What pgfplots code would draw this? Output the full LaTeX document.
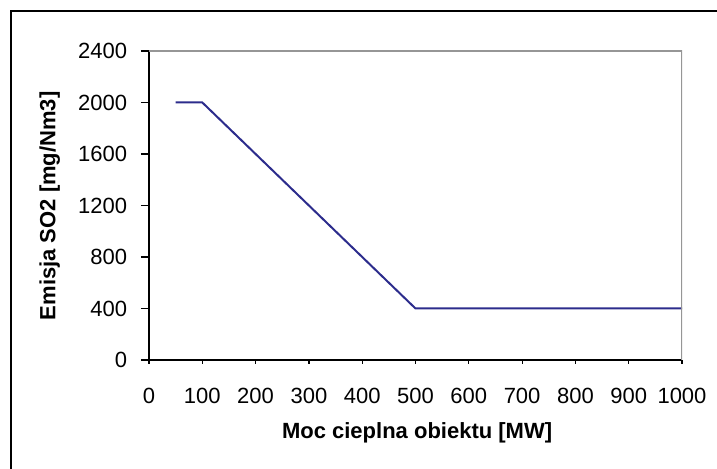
\documentclass[border=0pt]{standalone}
\usepackage{pgfplots}
\pgfplotsset{compat=1.18}
\usepackage{fontspec}
\setmainfont{Liberation Sans}
\definecolor{linec}{RGB}{44,44,140}
\definecolor{axgray}{RGB}{150,150,150}
\begin{document}
\begin{tikzpicture}
\useasboundingbox (0pt,0pt) rectangle (358.5pt,234.5pt);
\draw[black, line width=0.7pt] (5.5pt,0pt) -- (5.5pt,229pt) -- (358.5pt,229pt);
\begin{axis}[
  at={(74.5pt,54.5pt)}, anchor=south west,
  scale only axis, width=266.5pt, height=154.5pt,
  xmin=0, xmax=1000, ymin=0, ymax=2400,
  xtick={0,100,...,1000}, ytick={0,400,...,2400},
  axis x line*=bottom, axis y line*=left,
  axis line style={-, black, line width=0.8pt},
  tick align=outside,
  tick style={black, line width=0.6pt},
  xtick style={/pgfplots/major tick length=1.8pt},
  ytick style={/pgfplots/major tick length=4pt},
  font=\fontsize{11}{13}\selectfont,
  /pgf/number format/assume math mode=true,
  /pgf/number format/set thousands separator={},
  scaled ticks=false,
  xticklabel style={anchor=north, inner sep=0pt, yshift=-9.7pt},
  yticklabel style={anchor=east, inner sep=0pt, xshift=-6.5pt},
  xlabel={\bfseries Moc cieplna obiektu [MW]},
  ylabel={\bfseries Emisja SO2 [mg/Nm3]},
  xlabel style={at={(axis description cs:0.503,-0.237)}, anchor=center},
  ylabel style={at={(axis description cs:-0.186,0.499)}, anchor=center},
]
\addplot[linec, line width=1pt] coordinates {(50,2000) (100,2000) (500,400) (1000,400)};
\draw[axgray, line width=0.8pt] (rel axis cs:0,1) -- (rel axis cs:1,1) -- (rel axis cs:1,0);
\end{axis}
\end{tikzpicture}
\end{document}
